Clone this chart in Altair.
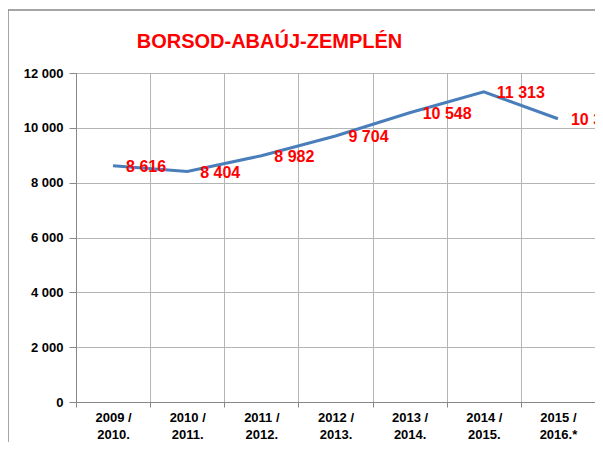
import altair as alt
import pandas as pd

years = ["2009 / 2010.", "2010 / 2011.", "2011 / 2012.", "2012 / 2013.",
         "2013 / 2014.", "2014 / 2015.", "2015 / 2016.*"]
values = [8616, 8404, 8982, 9704, 10548, 11313, 10331]
y_ticks = [0, 2000, 4000, 6000, 8000, 10000, 12000]
title_text = "BORSOD-ABAÚJ-ZEMPLÉN"

df = pd.DataFrame({"year": years, "value": values})
df["label"] = [f"{v:,}".replace(",", " ") for v in values]

GRID = "#B5B5B5"
AXIS = "#888888"

x = alt.X(
    "year:N", sort=years,
    scale=alt.Scale(paddingInner=0, paddingOuter=0),
    axis=alt.Axis(
        title=None, labelAngle=0, tickBand="extent", grid=True,
        gridColor=GRID, tickColor=AXIS, domainColor=AXIS, tickSize=5,
        labelExpr="[slice(datum.label, 0, 6), slice(datum.label, 7)]",
        labelFont="Liberation Sans", labelFontSize=13, labelFontWeight="bold",
        labelColor="#000000", labelPadding=4, labelLineHeight=17,
    ),
)
y = alt.Y(
    "value:Q",
    scale=alt.Scale(domain=[0, 12000], nice=False),
    axis=alt.Axis(
        title=None, values=y_ticks, grid=True, gridColor=GRID,
        tickColor=AXIS, domainColor=AXIS, tickSize=7, labelPadding=6,
        labelExpr="replace(format(datum.value, ','), ',', ' ')",
        labelFont="Liberation Sans", labelFontSize=13, labelFontWeight="bold",
        labelColor="#000000",
    ),
)

base = alt.Chart(df)
line = base.mark_line(color="#4A7EBB", strokeWidth=3).encode(x=x, y=y)
text = base.mark_text(
    align="left", baseline="middle", dx=13, dy=1, color="#FF0000",
    font="Liberation Sans", fontSize=16, fontWeight="bold",
).encode(x=x, y=y, text="label:N")

frame = alt.Chart(pd.DataFrame({"f": [0]})).mark_rect(
    fillOpacity=0, stroke="#888888", strokeWidth=1.5
).encode(x=alt.value(-68), x2=alt.value(700), y=alt.value(-63), y2=alt.value(600))

chart = alt.layer(frame, line, text).properties(
    width=519, height=329,
    autosize=alt.AutoSizeParams(type="none"),
    padding={"left": 68, "top": 65, "right": 0, "bottom": 40},
    title=alt.TitleParams(
        title_text, font="Liberation Sans", fontSize=20, fontWeight="bold",
        color="#FF0000", anchor="middle", dx=-66, dy=77, offset=18, baseline="alphabetic",
    ),
).configure_view(stroke="#A6A6A6", strokeWidth=1)

chart.save("out.html", embed_options={"renderer": "svg", "actions": False})
